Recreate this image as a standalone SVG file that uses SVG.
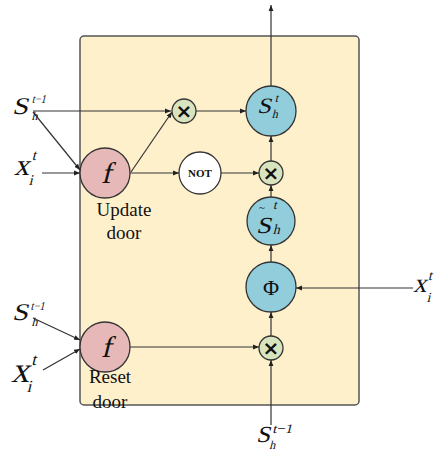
<svg xmlns="http://www.w3.org/2000/svg" width="435" height="452" viewBox="0 0 435 452">
<defs>
<marker id="ah" viewBox="0 0 10 10" refX="10" refY="5" markerWidth="6" markerHeight="6" markerUnits="userSpaceOnUse" orient="auto"><path d="M0,1 L10,5 L0,9 z" fill="#222"/></marker>
</defs>
<style>
.c{stroke:#333;stroke-width:1.3}
.ln{stroke:#333;stroke-width:1.2;fill:none;marker-end:url(#ah)}
.m{font-family:'Liberation Serif','Times New Roman',serif;fill:#111}
.t{font-family:'Liberation Serif','Times New Roman',serif;fill:#111}
.x{font-family:'DejaVu Sans',sans-serif;font-size:20px;font-weight:bold;fill:#111;text-anchor:middle}
.pink{fill:#E6B8B7}
.blue{fill:#92CDDC}
.green{fill:#D7E4BD}
</style>
<rect id="cell" x="80" y="36" width="279" height="369" rx="4" fill="#FFF0CC" stroke="#555" stroke-width="1.5"/>
<g id="connectors">
<path class="ln" d="M33,111 H171"/>
<path class="ln" d="M33,112 L80,170"/>
<path class="ln" d="M42,173 H80"/>
<path class="ln" d="M131,172 L172,112"/>
<path class="ln" d="M130,173 H179"/>
<path class="ln" d="M196,111 H246"/>
<path class="ln" d="M221,173 H259"/>
<path class="ln" d="M271,161 V136"/>
<path class="ln" d="M271,197 V185"/>
<path class="ln" d="M271,262 V245"/>
<path class="ln" d="M271,336 V312"/>
<path class="ln" d="M271,425 V360"/>
<path class="ln" d="M413,288 H296"/>
<path class="ln" d="M130,347 H259"/>
<path class="ln" d="M33,318 L80,340"/>
<path class="ln" d="M43,370 L80,349"/>
<path class="ln" d="M271,86 V5"/>
</g>
<g id="update">
<circle class="c pink" cx="105" cy="173" r="25"/>
<g transform="translate(106,183) skewX(-14)"><text class="m" x="0" y="0" font-size="30" text-anchor="middle">f</text></g>
<text class="t" x="124" y="216" font-size="19" text-anchor="middle">Update</text>
<text class="t" x="124" y="239" font-size="19" text-anchor="middle">door</text>
</g>
<g id="reset">
<circle class="c pink" cx="105" cy="347" r="25"/>
<g transform="translate(106,357) skewX(-14)"><text class="m" x="0" y="0" font-size="30" text-anchor="middle">f</text></g>
<text class="t" x="110" y="383" font-size="19" text-anchor="middle">Reset</text>
<text class="t" x="110" y="408" font-size="19" text-anchor="middle">door</text>
</g>
<g id="mul1">
<circle class="c green" cx="184" cy="111" r="12"/>
<text class="x" x="184" y="118">×</text>
</g>
<g id="not">
<circle class="c" fill="#fff" cx="200" cy="173" r="21"/>
<text class="t" x="200" y="177" font-size="11" font-weight="bold" text-anchor="middle">NOT</text>
</g>
<g id="sht">
<circle class="c blue" cx="271" cy="111" r="25"/>
<g transform="translate(257,113) skewX(-14)">
<text class="m" x="0" y="0" font-size="22" textLength="14" lengthAdjust="spacingAndGlyphs">S</text>
<text class="m" x="15" y="-11" font-size="12">t</text>
<text class="m" x="16" y="5" font-size="12">h</text>
</g>
</g>
<g id="mul2">
<circle class="c green" cx="271" cy="173" r="12"/>
<text class="x" x="271" y="180">×</text>
</g>
<g id="stilde">
<circle class="c blue" cx="271" cy="221" r="24"/>
<text class="t" x="259" y="211" font-size="11">~</text>
<g transform="translate(256,233) skewX(-14)">
<text class="m" x="11" y="-24" font-size="13">t</text>
<text class="m" x="0" y="0" font-size="23" textLength="15" lengthAdjust="spacingAndGlyphs">S</text>
<text class="m" x="17" y="1" font-size="14">h</text>
</g>
</g>
<g id="phi">
<circle class="c blue" cx="271" cy="287" r="25"/>
<text class="t" x="271" y="295" font-size="22" text-anchor="middle">Φ</text>
</g>
<g id="mul3">
<circle class="c green" cx="271" cy="348" r="12"/>
<text class="x" x="271" y="355">×</text>
</g>
<g id="in-s1" transform="translate(12,114) skewX(-14)">
<text class="m" x="0" y="0" font-size="24" textLength="16" lengthAdjust="spacingAndGlyphs">S</text>
<text class="m" x="17" y="-11" font-size="12" textLength="14" lengthAdjust="spacingAndGlyphs">t−1</text>
<text class="m" x="21" y="6" font-size="12">h</text>
</g>
<g id="in-x1" transform="translate(14,175) skewX(-14)">
<text class="m" x="0" y="0" font-size="30">x</text>
<text class="m" x="14" y="-15" font-size="15">t</text>
<text class="m" x="17" y="10" font-size="15">i</text>
</g>
<g id="in-s2" transform="translate(12,320) skewX(-14)">
<text class="m" x="0" y="0" font-size="24" textLength="16" lengthAdjust="spacingAndGlyphs">S</text>
<text class="m" x="16" y="-10" font-size="12" textLength="14" lengthAdjust="spacingAndGlyphs">t−1</text>
<text class="m" x="21" y="6" font-size="12">h</text>
</g>
<g id="in-x2" transform="translate(11,382) skewX(-14)">
<text class="m" x="0" y="0" font-size="36">x</text>
<text class="m" x="16" y="-17" font-size="17">t</text>
<text class="m" x="18" y="10" font-size="17">i</text>
</g>
<g id="in-x3" transform="translate(413,292) skewX(-14)">
<text class="m" x="0" y="0" font-size="27">x</text>
<text class="m" x="12" y="-12" font-size="14">t</text>
<text class="m" x="16" y="10" font-size="14">i</text>
</g>
<g id="in-s3" transform="translate(256,442) skewX(-14)">
<text class="m" x="0" y="0" font-size="23" textLength="14" lengthAdjust="spacingAndGlyphs">S</text>
<text class="m" x="14" y="-9" font-size="13" textLength="20" lengthAdjust="spacingAndGlyphs">t−1</text>
<text class="m" x="15" y="7" font-size="12">h</text>
</g>
</svg>
